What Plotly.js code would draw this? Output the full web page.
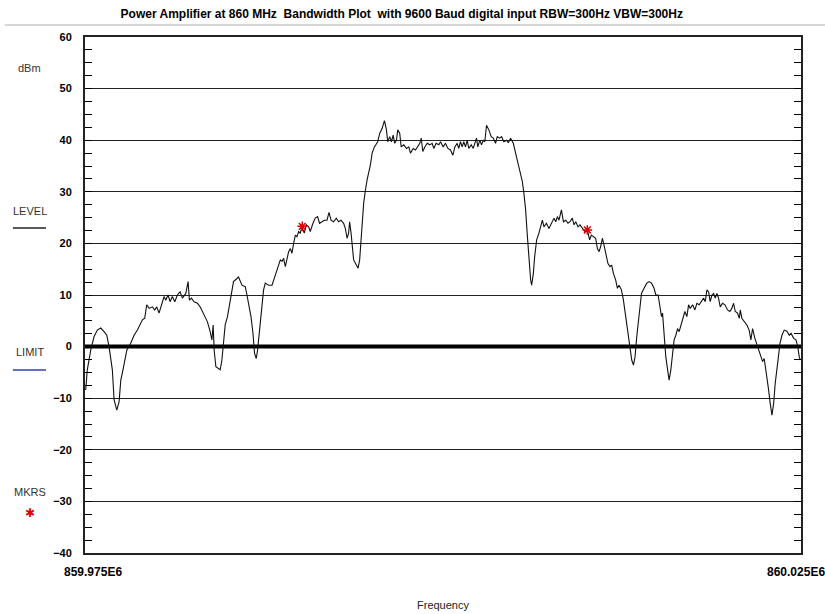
<!DOCTYPE html>
<html>
<head>
<meta charset="utf-8">
<script src="https://cdn.plot.ly/plotly-3.0.1.min.js"></script>
<style>html,body{margin:0;padding:0;background:#fff;}#chart{width:825px;height:614px;}</style>
</head>
<body>
<div id="chart"></div>
<script>
// Frequency span
const START_HZ = 859.975e6;
const STOP_HZ = 860.025e6;
const xTickLabels = ['859.975E6', '860.025E6'];

// Trace: offset from start in kHz
const freqOffsetKHz = [
  0.05,0.16,0.40,0.63,0.86,1.10,1.33,1.52,1.68,1.91,
  2.03,2.22,2.38,2.50,2.61,2.73,2.92,3.20,3.43,3.66,
  3.85,4.01,4.17,4.31,4.48,4.71,4.87,5.01,5.17,5.34,
  5.52,5.64,5.80,5.94,6.10,6.27,6.45,6.64,6.80,7.04,
  7.20,7.29,7.43,7.62,7.85,8.04,8.20,8.37,8.55,8.74,
  8.86,8.95,9.02,9.14,9.30,9.44,9.56,9.67,9.79,9.95,
  10.19,10.37,10.61,10.72,10.96,11.19,11.31,11.42,11.59,11.73,
  11.84,11.96,12.05,12.19,12.36,12.47,12.59,12.82,13.06,13.17,
  13.34,13.52,13.64,13.76,13.87,13.99,14.10,14.22,14.34,14.45,
  14.57,14.69,14.80,14.92,15.03,15.15,15.31,15.45,15.62,15.73,
  15.92,16.08,16.24,16.38,16.55,16.71,16.90,17.04,17.18,17.36,
  17.55,17.71,17.88,18.06,18.18,18.30,18.41,18.48,18.58,18.67,
  18.76,18.95,19.07,19.18,19.28,19.37,19.46,19.58,19.70,19.93,
  20.05,20.21,20.44,20.58,20.75,20.91,21.05,21.14,21.28,21.40,
  21.52,21.63,21.75,21.84,21.98,22.08,22.26,22.45,22.61,22.73,
  22.92,23.08,23.24,23.38,23.48,23.59,23.73,23.90,24.08,24.24,
  24.36,24.52,24.71,24.83,25.01,25.17,25.34,25.52,25.69,25.83,
  25.99,26.10,26.22,26.34,26.45,26.57,26.69,26.80,26.97,27.11,
  27.22,27.34,27.43,27.57,27.69,27.81,27.92,28.04,28.20,28.37,
  28.51,28.67,28.79,28.95,29.09,29.25,29.44,29.56,29.72,29.91,
  30.07,30.23,30.42,30.54,30.65,30.77,30.89,31.00,31.12,31.19,
  31.31,31.40,31.54,31.70,31.87,31.94,32.05,32.22,32.40,32.57,
  32.75,32.87,32.99,33.10,33.27,33.41,33.57,33.73,33.87,34.03,
  34.15,34.27,34.43,34.57,34.73,34.90,35.08,35.24,35.36,35.50,
  35.66,35.78,35.90,36.01,36.13,36.24,36.36,36.52,36.66,36.78,
  36.90,37.06,37.18,37.29,37.46,37.60,37.76,37.92,38.06,38.18,
  38.30,38.41,38.53,38.69,38.86,39.04,39.23,39.39,39.56,39.74,
  39.86,40.02,40.16,40.26,40.33,40.44,40.56,40.71,40.79,40.91,
  41.03,41.14,41.26,41.38,41.49,41.61,41.73,41.89,42.03,42.15,
  42.26,42.43,42.59,42.73,42.89,43.01,43.20,43.31,43.43,43.55,
  43.66,43.78,43.90,44.01,44.13,44.24,44.36,44.52,44.69,44.87,
  45.03,45.17,45.29,45.41,45.57,45.69,45.76,45.87,46.03,46.22,
  46.38,46.50,46.62,46.78,46.97,47.20,47.32,47.43,47.55,47.71,
  47.85,47.97,48.09,48.20,48.37,48.53,48.67,48.83,49.02,49.18,
  49.30,49.49,49.65,49.77,49.88,49.95
];

// Trace: level in dBm
const levelDbm = [
  -8.4,-4.5,-0.7,1.9,3.2,3.6,2.9,2.2,0,-4.5,
  -10.3,-12.3,-10.7,-6.5,-5.1,-3.6,-0.7,0.7,2.2,3.2,
  4.2,5.2,5.5,8.1,7.4,7.7,7.1,7.7,6.5,8.1,
  9.7,9.0,10.0,8.7,9.7,8.7,10.0,10.6,9.4,10.3,
  12.6,9.0,9.4,8.7,8.4,7.7,6.8,5.8,4.8,2.9,
  1.3,4.2,-0.7,-3.9,-4.2,-4.5,-2.6,0.6,4.2,5.8,
  9.7,12.6,13.2,13.5,11.9,11.6,10.0,8.4,5.8,2.6,
  -1.3,-2.3,-0.7,3.2,7.4,11.0,12.3,11.9,11.9,12.9,
  14.5,15.8,16.8,16.5,17.1,15.5,16.8,18.4,19.0,18.1,
  20.0,21.6,21.3,22.3,22.0,23.2,22.0,23.6,23.2,22.3,
  23.9,24.9,25.2,23.9,24.2,24.5,24.5,26.0,24.5,24.2,
  24.9,24.2,24.5,23.9,22.9,21.0,22.0,24.2,22.0,19.4,
  16.8,15.8,15.2,16.8,21.3,25.2,27.8,30.3,32.3,35.2,
  37.5,38.7,39.7,41.3,42.3,43.8,42.0,39.7,40.7,39.7,
  41.0,39.4,40.0,42.0,41.3,38.7,39.1,38.4,38.7,37.5,
  38.4,38.1,38.7,39.4,40.4,37.8,38.7,39.4,39.1,39.4,
  38.4,39.4,39.1,39.7,38.7,39.4,38.4,38.1,37.1,38.7,
  39.4,38.4,39.7,38.7,39.7,38.7,40.0,38.4,39.1,38.4,
  39.4,40.4,38.7,40.0,39.1,40.0,39.7,42.9,42.0,40.7,
  40.4,39.4,40.7,40.4,40.7,39.7,40.0,39.5,40.4,39.4,
  37.5,35.5,33.6,32.0,29.7,26.5,21.5,17.0,12.9,11.9,
  14.2,17.4,20.7,22.0,23.6,24.5,23.2,23.9,22.9,23.9,
  24.9,24.2,25.2,24.5,26.5,24.2,24.5,23.9,24.2,24.9,
  23.6,24.2,23.2,23.6,22.9,22.3,22.6,20.7,21.6,21.3,
  21.0,19.0,18.4,19.4,21.0,19.7,17.8,16.1,15.5,15.8,
  14.2,12.9,11.3,11.9,11.0,9.0,5.8,2.6,-0.7,-2.6,
  -3.6,-2.0,1.9,6.5,10.3,11.3,12.3,12.6,12.3,11.3,
  10.0,10.0,7.7,5.8,6.5,2.2,-2.0,-5.0,-6.5,-4.5,
  -1.3,1.3,2.2,3.5,2.9,4.2,5.5,6.8,5.8,8.1,
  7.4,8.1,7.1,8.4,8.1,8.7,9.4,8.7,11.0,10.6,
  8.7,10.0,10.3,9.4,10.3,9.4,7.7,8.4,8.1,7.1,
  6.8,7.4,8.4,6.8,6.5,5.5,7.1,5.5,4.8,4.2,
  3.2,1.3,3.5,1.6,0,-2.0,-2.9,-2.3,-4.5,-7.8,
  -11.0,-13.3,-11.0,-7.1,-3.2,0.6,2.2,3.2,3.0,2.2,
  2.6,1.6,1.3,0,-2.0,-2.6
];

// Markers
const markerOffsetKHz = [15.17, 35.08];
const markerDbm = [23.3, 22.6];

// Limit line
const limitDbm = 0;

const toHz = k => START_HZ + k * 1e3;
const freqHz = freqOffsetKHz.map(toHz);
const markerHz = markerOffsetKHz.map(toHz);

const FONT = 'Liberation Sans, Arial, sans-serif';

const traces = [
  {
    x: [START_HZ, STOP_HZ], y: [limitDbm, limitDbm],
    mode: 'lines', line: {color: '#000', width: 4},
    hoverinfo: 'skip', showlegend: false
  },
  {
    x: freqHz, y: levelDbm,
    mode: 'lines', line: {color: '#111', width: 1.1},
    showlegend: false
  },
  {
    x: markerHz, y: markerDbm,
    mode: 'markers',
    marker: {symbol: 'asterisk-open', size: 8, color: '#e00000', line: {color: '#e00000', width: 1.5}},
    showlegend: false
  }
];

const legendLabel = (text, y) => ({
  text: text, xref: 'paper', yref: 'paper', x: -0.0769, y: y,
  xanchor: 'center', yanchor: 'middle', showarrow: false,
  font: {family: FONT, size: 11, color: '#333'}
});

const layout = {
  width: 825, height: 614,
  margin: {l: 85, r: 24, t: 37, b: 61},
  paper_bgcolor: '#fff', plot_bgcolor: '#fff',
  title: {
    text: 'Power Amplifier at 860 MHz  Bandwidth Plot  with 9600 Baud digital input RBW=300Hz VBW=300Hz',
    x: 0.487, xref: 'container', xanchor: 'center',
    y: 1 - 14 / 614, yref: 'container', yanchor: 'middle',
    font: {family: FONT, size: 12, color: '#000', weight: 'bold'}
  },
  xaxis: {
    range: [START_HZ, STOP_HZ],
    showgrid: false, zeroline: false,
    showline: true, linecolor: '#222', linewidth: 2, mirror: true,
    tickmode: 'array', tickvals: [START_HZ, STOP_HZ],
    ticks: 'inside', ticklen: 8, tickcolor: '#222', tickwidth: 1,
    showticklabels: false
  },
  yaxis: {
    range: [-40, 60], dtick: 10, tick0: 0,
    showgrid: true, gridcolor: '#222', gridwidth: 1,
    zeroline: false,
    showline: true, linecolor: '#222', linewidth: 2, mirror: 'allticks',
    ticks: 'inside', ticklen: 7, tickcolor: '#000', tickwidth: 1,
    minor: {dtick: 2.5, ticks: 'inside', ticklen: 7, tickcolor: '#000', tickwidth: 1, showgrid: false},
    ticklabelstandoff: 9,
    tickfont: {family: FONT, size: 11, color: '#000', weight: 'bold'}
  },
  shapes: [
    {type: 'line', xref: 'paper', yref: 'paper', x0: -0.112, x1: 1.04, y0: 1.0233, y1: 1.0233,
     line: {color: '#c8c8c8', width: 1.5}},
    {type: 'line', xref: 'paper', yref: 'paper', x0: -0.1007, x1: -0.0545, y0: 0.630, y1: 0.630,
     line: {color: '#222', width: 1.5}},
    {type: 'line', xref: 'paper', yref: 'paper', x0: -0.1007, x1: -0.0545, y0: 0.3547, y1: 0.3547,
     line: {color: '#3040b0', width: 1.5}}
  ],
  annotations: [
    legendLabel('dBm', (553 - 68) / 516),
    legendLabel('LEVEL', (553 - 211) / 516),
    legendLabel('LIMIT', (553 - 352) / 516),
    legendLabel('MKRS', (553 - 492) / 516),
    {text: '✱', xref: 'paper', yref: 'paper', x: -0.0769, y: (553 - 513) / 516,
     xanchor: 'center', yanchor: 'middle', showarrow: false,
     font: {family: 'DejaVu Sans', size: 12, color: '#e00000'}},
    {text: xTickLabels[0], xref: 'paper', yref: 'paper', x: 0, y: 0, xshift: -23, yshift: -19,
     xanchor: 'left', yanchor: 'middle', showarrow: false,
     font: {family: FONT, size: 12, color: '#000', weight: 'bold'}},
    {text: xTickLabels[1], xref: 'paper', yref: 'paper', x: 1, y: 0, xshift: 26, yshift: -19,
     xanchor: 'right', yanchor: 'middle', showarrow: false,
     font: {family: FONT, size: 12, color: '#000', weight: 'bold'}},
    {text: 'Frequency', xref: 'paper', yref: 'paper', x: 0.5, y: -0.1008,
     xanchor: 'center', yanchor: 'middle', showarrow: false,
     font: {family: FONT, size: 11, color: '#222'}}
  ]
};

Plotly.newPlot('chart', traces, layout, {displayModeBar: false, staticPlot: true});
</script>
</body>
</html>
